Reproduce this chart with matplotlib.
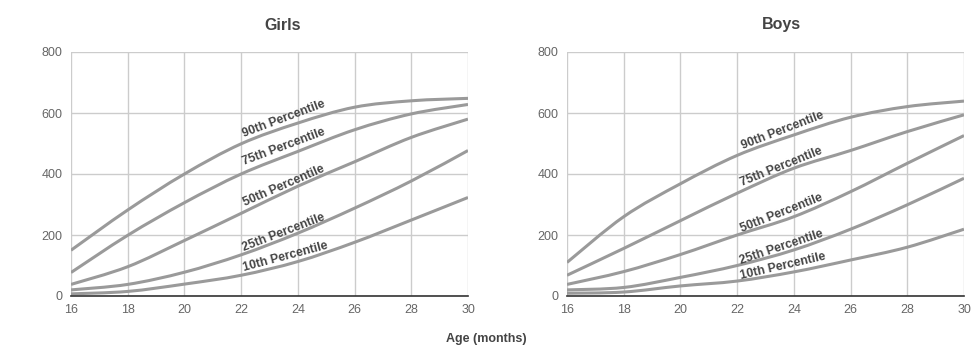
import numpy as np
import matplotlib
matplotlib.use("Agg")
import matplotlib.pyplot as plt
from matplotlib.path import Path
from matplotlib.patches import PathPatch

plt.rcParams['font.family'] = ['Liberation Sans', 'DejaVu Sans']

# ages (months)
ages = [16, 18, 20, 22, 24, 26, 28, 30]
percentiles = ["90th", "75th", "50th", "25th", "10th"]

girls = {
    "90th": [150, 282, 400, 499, 567, 619, 640, 648],
    "75th": [77, 199, 306, 400, 474, 545, 597, 628],
    "50th": [38, 96, 182, 271, 360, 440, 520, 580],
    "25th": [20, 38, 78, 135, 206, 288, 377, 477],
    "10th": [7, 15, 39, 68, 113, 176, 249, 323],
}
boys = {
    "90th": [110, 260, 368, 461, 528, 586, 621, 639],
    "75th": [68, 156, 247, 337, 419, 477, 539, 594],
    "50th": [38, 80, 136, 200, 260, 342, 435, 526],
    "25th": [20, 28, 61, 100, 151, 219, 299, 386],
    "10th": [9, 13, 33, 49, 79, 118, 160, 219],
}

# label positions (x, y, rotation)
girls_labels = {
    "90th": (23.5, 580, 20.5),
    "75th": (23.5, 490, 20.5),
    "50th": (23.5, 362, 23.5),
    "25th": (23.5, 209, 21),
    "10th": (23.55, 127, 15),
}
boys_labels = {
    "90th": (23.6, 542, 21),
    "75th": (23.55, 422, 22),
    "50th": (23.55, 271, 21.5),
    "25th": (23.55, 160, 18.5),
    "10th": (23.6, 96, 13),
}

LINE = "#9a9a9a"
TXT = "#444444"


def smooth_patch(x, y):
    # Catmull-Rom through the read points, drawn as cubic Bezier segments
    n = len(x)
    verts = [(x[0], y[0])]
    codes = [Path.MOVETO]
    for i in range(n - 1):
        a = max(i - 1, 0)
        b = min(i + 2, n - 1)
        c1 = (x[i] + (x[i + 1] - x[a]) / 6, y[i] + (y[i + 1] - y[a]) / 6)
        c2 = (x[i + 1] - (x[b] - x[i]) / 6, y[i + 1] - (y[b] - y[i]) / 6)
        verts += [c1, c2, (x[i + 1], y[i + 1])]
        codes += [Path.CURVE4] * 3
    return PathPatch(Path(verts, codes), fill=False, edgecolor=LINE,
                     linewidth=2.2, capstyle='butt', zorder=3)


fig = plt.figure(figsize=(9.75, 3.6), dpi=100)
ax1 = fig.add_axes([71 / 975, 1 - 296 / 360, 397 / 975, 244 / 360])
ax2 = fig.add_axes([567 / 975, 1 - 296 / 360, 397 / 975, 244 / 360])

for ax, data, labels, title, tx in [(ax1, girls, girls_labels, "Girls", 283 / 975),
                                    (ax2, boys, boys_labels, "Boys", 781 / 975)]:
    for p in percentiles:
        ax.add_patch(smooth_patch(ages, data[p]))
        lx, ly, rot = labels[p]
        ax.text(lx, ly, p + " Percentile", rotation=rot, ha='center', va='center',
                fontsize=8.8, fontweight='bold', color=TXT, rotation_mode='anchor', zorder=4)
    ax.set_xlim(16, 30)
    ax.set_ylim(0, 800)
    ax.set_xticks(range(16, 31, 2))
    ax.set_yticks(range(0, 801, 200))
    ax.grid(True, color="#cccccc", linewidth=1)
    ax.set_axisbelow(True)
    for s in ['top', 'right', 'left']:
        ax.spines[s].set_visible(False)
    ax.spines['bottom'].set_color("#333333")
    ax.spines['bottom'].set_linewidth(1.2)
    ax.spines['bottom'].set_zorder(5)
    ax.tick_params(length=0, labelsize=9, labelcolor="#666666", pad=6)
    fig.text(tx, 1 - 25 / 360, title, ha='center', va='center',
             fontsize=11.5, fontweight='bold', color=TXT)

fig.text(486 / 975, 1 - 339 / 360, "Age (months)", ha='center', va='center',
         fontsize=9, fontweight='bold', color=TXT)

fig.savefig("out.png", dpi=100)
